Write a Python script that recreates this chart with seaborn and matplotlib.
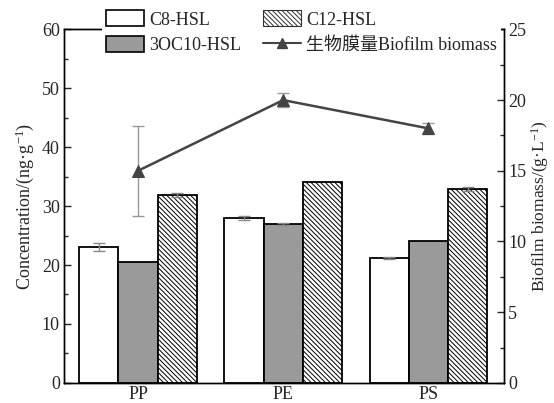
import numpy as np
import pandas as pd
import matplotlib
matplotlib.use("Agg")
import matplotlib.pyplot as plt
import seaborn as sns
from matplotlib.patches import Patch
from matplotlib.lines import Line2D

groups = ["PP", "PE", "PS"]
compounds = ["C8-HSL", "3OC10-HSL", "C12-HSL"]
c8 = [23.0, 28.0, 21.2]
c8_err = [0.7, 0.3, 0.2]
oc10 = [20.5, 27.0, 24.0]
oc10_err = [0.0, 0.2, 0.0]
c12 = [31.9, 34.1, 32.9]
c12_err = [0.3, 0.0, 0.4]
biomass = [15.0, 20.0, 18.0]
biomass_err = [3.2, 0.5, 0.4]
biomass_label = "生物膜量Biofilm biomass"

sns.set_theme(style="ticks")
plt.rcParams["font.family"] = ["Liberation Serif", "Noto Sans CJK SC"]
plt.rcParams["mathtext.default"] = "regular"
plt.rcParams["hatch.linewidth"] = 0.7
plt.rcParams["hatch.color"] = "#333333"

df = pd.DataFrame({
    "group": np.repeat(groups, 3),
    "compound": compounds * 3,
    "value": np.ravel(np.column_stack([c8, oc10, c12])),
    "err": np.ravel(np.column_stack([c8_err, oc10_err, c12_err])),
})

fig = plt.figure(figsize=(5.54, 4.03), dpi=100)
ax = fig.add_axes([0.1155, 0.05, 0.794, 0.877])

face = {"C8-HSL": "white", "3OC10-HSL": "#9a9a9a", "C12-HSL": "white"}
HATCH = "\\\\\\\\\\\\\\"
hatch = {"C8-HSL": "", "3OC10-HSL": "", "C12-HSL": HATCH}

sns.barplot(data=df, x="group", y="value", hue="compound", order=groups,
            hue_order=compounds, width=0.81, ax=ax, errorbar=None,
            legend=False, edgecolor="black", linewidth=1.3, gap=0)

# style bars and add error bars
bar_containers = list(ax.containers)
for i, cont in enumerate(bar_containers):
    comp = compounds[i]
    sub = df[df.compound == comp].set_index("group").loc[groups]
    xs, ys = [], []
    for p in cont.patches:
        p.set_facecolor(face[comp])
        p.set_hatch(hatch[comp])
        p.set_edgecolor("black")
        xs.append(p.get_x() + p.get_width() / 2)
        ys.append(p.get_height())
    errs = sub["err"].values
    m = errs > 0
    ax.errorbar(np.array(xs)[m], np.array(ys)[m], yerr=errs[m], fmt="none",
                ecolor="#888888", elinewidth=1, capsize=4, capthick=1, zorder=5)

ax.set_ylim(0, 60)
ax.set_xlim(-0.51, 2.52)
ax.set_yticks(np.arange(0, 61, 10))
ax.set_yticks(np.arange(5, 60, 10), minor=True)
ax.set_xlabel("")
ax.set_ylabel("Concentration/(ng·g$^{-1}$)", fontsize=13, labelpad=4)
ax.tick_params(axis="y", direction="in", length=5, width=1, labelsize=13, pad=3)
ax.tick_params(axis="y", which="minor", direction="in", length=3, width=1)
ax.tick_params(axis="x", direction="in", length=5, width=1, labelsize=13, pad=2)

ax2 = ax.twinx()
xpos = np.arange(len(groups))
sns.lineplot(x=xpos, y=biomass, ax=ax2, color="#444444", marker="^",
             markersize=9, markeredgecolor="#444444", linewidth=1.8, zorder=6)
ax2.errorbar(xpos, biomass, yerr=biomass_err, fmt="none", ecolor="#999999",
             elinewidth=1, capsize=4, capthick=1, zorder=5)
ax2.set_ylim(0, 25)
ax2.set_yticks(np.arange(0, 26, 5))
ax2.set_yticks(np.arange(2.5, 25, 5), minor=True)
ax2.set_ylabel("Biofilm biomass/(g·L$^{-1}$)", fontsize=12.5, labelpad=2)
ax2.tick_params(axis="y", direction="in", length=5, width=1, labelsize=13, pad=3)
ax2.tick_params(axis="y", which="minor", direction="in", length=3, width=1)

for a in (ax, ax2):
    for s in a.spines.values():
        s.set_color("black")
        s.set_linewidth(1)
        s.set_visible(True)

handles = [
    Patch(facecolor="white", edgecolor="black", linewidth=1.2),
    Patch(facecolor="#9a9a9a", edgecolor="black", linewidth=1.2),
    Patch(facecolor="white", edgecolor="#333333", hatch=HATCH, linewidth=0.8),
    Line2D([], [], color="#444444", marker="^", markersize=7, linewidth=1.5),
]
labels = ["C8-HSL", "3OC10-HSL", "C12-HSL", biomass_label]
leg = ax2.legend(handles, labels, ncol=2, loc="upper left",
                 bbox_to_anchor=(0.067, 1.09), fontsize=13, frameon=True,
                 facecolor="white", edgecolor="none", framealpha=1,
                 handlelength=2.1, handleheight=1.0, handletextpad=0.3,
                 columnspacing=1.2, labelspacing=0.4, borderpad=0.2)
leg.set_zorder(10)

fig.savefig("out.png", dpi=100)
